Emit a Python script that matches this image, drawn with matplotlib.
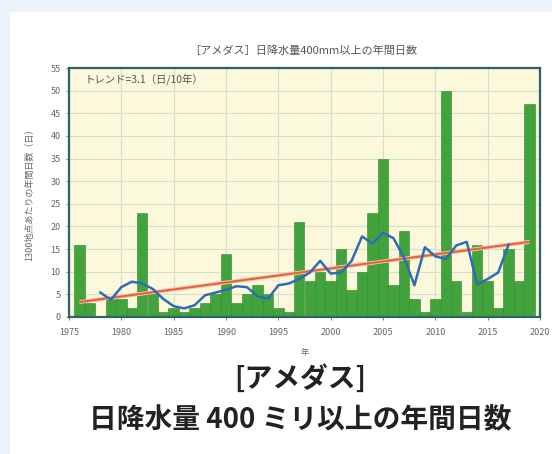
import numpy as np
import matplotlib
matplotlib.use("Agg")
import matplotlib.pyplot as plt
from matplotlib.patches import Rectangle

plt.rcParams['font.family'] = ['Noto Sans CJK JP', 'DejaVu Sans']

# 年ごとの日数
years = list(range(1976, 2020))
days = [16, 3, 0, 4, 4, 2, 23, 5, 1, 2,
        1, 2, 3, 5, 14, 3, 5, 7, 5, 2,
        1, 21, 8, 10, 8, 15, 6, 10, 23, 35,
        7, 19, 4, 1, 4, 50, 8, 1, 16, 8,
        2, 15, 8, 47]

# 5年移動平均 (青線, 図から読み取り)
avg_years = list(range(1978, 2018))
avg_days = [5.4, 3.8, 6.6, 7.8, 7.4, 6.2, 4.0, 2.4, 1.9, 2.6,
            4.8, 5.4, 6.0, 6.8, 6.6, 4.6, 4.0, 7.0, 7.4, 8.4,
            9.8, 12.4, 9.6, 9.8, 12.4, 17.8, 16.2, 18.6, 17.4, 13.2,
            7.0, 15.4, 13.4, 12.8, 15.8, 16.6, 7.2, 8.4, 9.8, 16.0]

# トレンド線の両端
trend_years = [1976, 2019]
trend_days = [3.3, 16.6]

xticks = list(range(1975, 2021, 5))
yticks = list(range(0, 56, 5))

fig = plt.figure(figsize=(5.52, 4.54), dpi=100)
fig.patch.set_facecolor('#eaf2fa')
fig.patches.append(Rectangle((10 / 552, 0), 1, 1 - 12 / 454, transform=fig.transFigure,
                             facecolor='white', edgecolor='none', zorder=-5))

ax = fig.add_axes([69 / 552, 1 - 317 / 454, 471 / 552, 249 / 454])
ax.set_zorder(2)
ax.set_facecolor('#fbf8dc')

ax.bar(years, days, width=1.0, color='#42a23b', edgecolor='#2f872f', linewidth=0.4, zorder=2)
ax.plot(trend_years, trend_days, color='#f6c0a8', lw=2.8, zorder=3, solid_capstyle='butt')
ax.plot(trend_years, trend_days, color='#e65f3a', lw=1.4, zorder=4, solid_capstyle='butt')
ax.plot(avg_years, avg_days, color='#2f6db3', lw=1.8, zorder=5)

ax.set_xlim(1975, 2020)
ax.set_ylim(0, 55)
ax.set_xticks(xticks)
ax.set_yticks(yticks)
ax.grid(True, color='#d5dfc9', lw=0.8, zorder=1)
ax.set_axisbelow(True)
ax.tick_params(labelsize=6.5, colors='#666666', length=2, width=0.6, pad=4)
ax.tick_params(axis='x', pad=6)
for s in ax.spines.values():
    s.set_color('#2e6468')
    s.set_linewidth(1.6)

ax.set_xlabel('年', fontsize=6, color='#666666', labelpad=8)
ax.set_ylabel('1300地点あたりの年間日数（日）', fontsize=6.5, color='#666666', labelpad=12)
ax.text(16 / 471, 1 - 11 / 249, 'トレンド=3.1（日/10年）', transform=ax.transAxes, fontsize=7.5,
        color='#555555', va='center', ha='left')

fig.text(303 / 552, 1 - 51 / 454, '［アメダス］日降水量400mm以上の年間日数', fontsize=8,
         color='#555555', ha='center', va='center')

fig.text(300 / 552, 1 - 378 / 454, '[アメダス]', fontsize=20, fontweight='bold',
         color='#222222', ha='center', va='center')
fig.text(300 / 552, 1 - 420 / 454, '日降水量 400 ミリ以上の年間日数', fontsize=20,
         fontweight='bold', color='#222222', ha='center', va='center')

fig.savefig('out.png', dpi=100, facecolor=fig.get_facecolor())
